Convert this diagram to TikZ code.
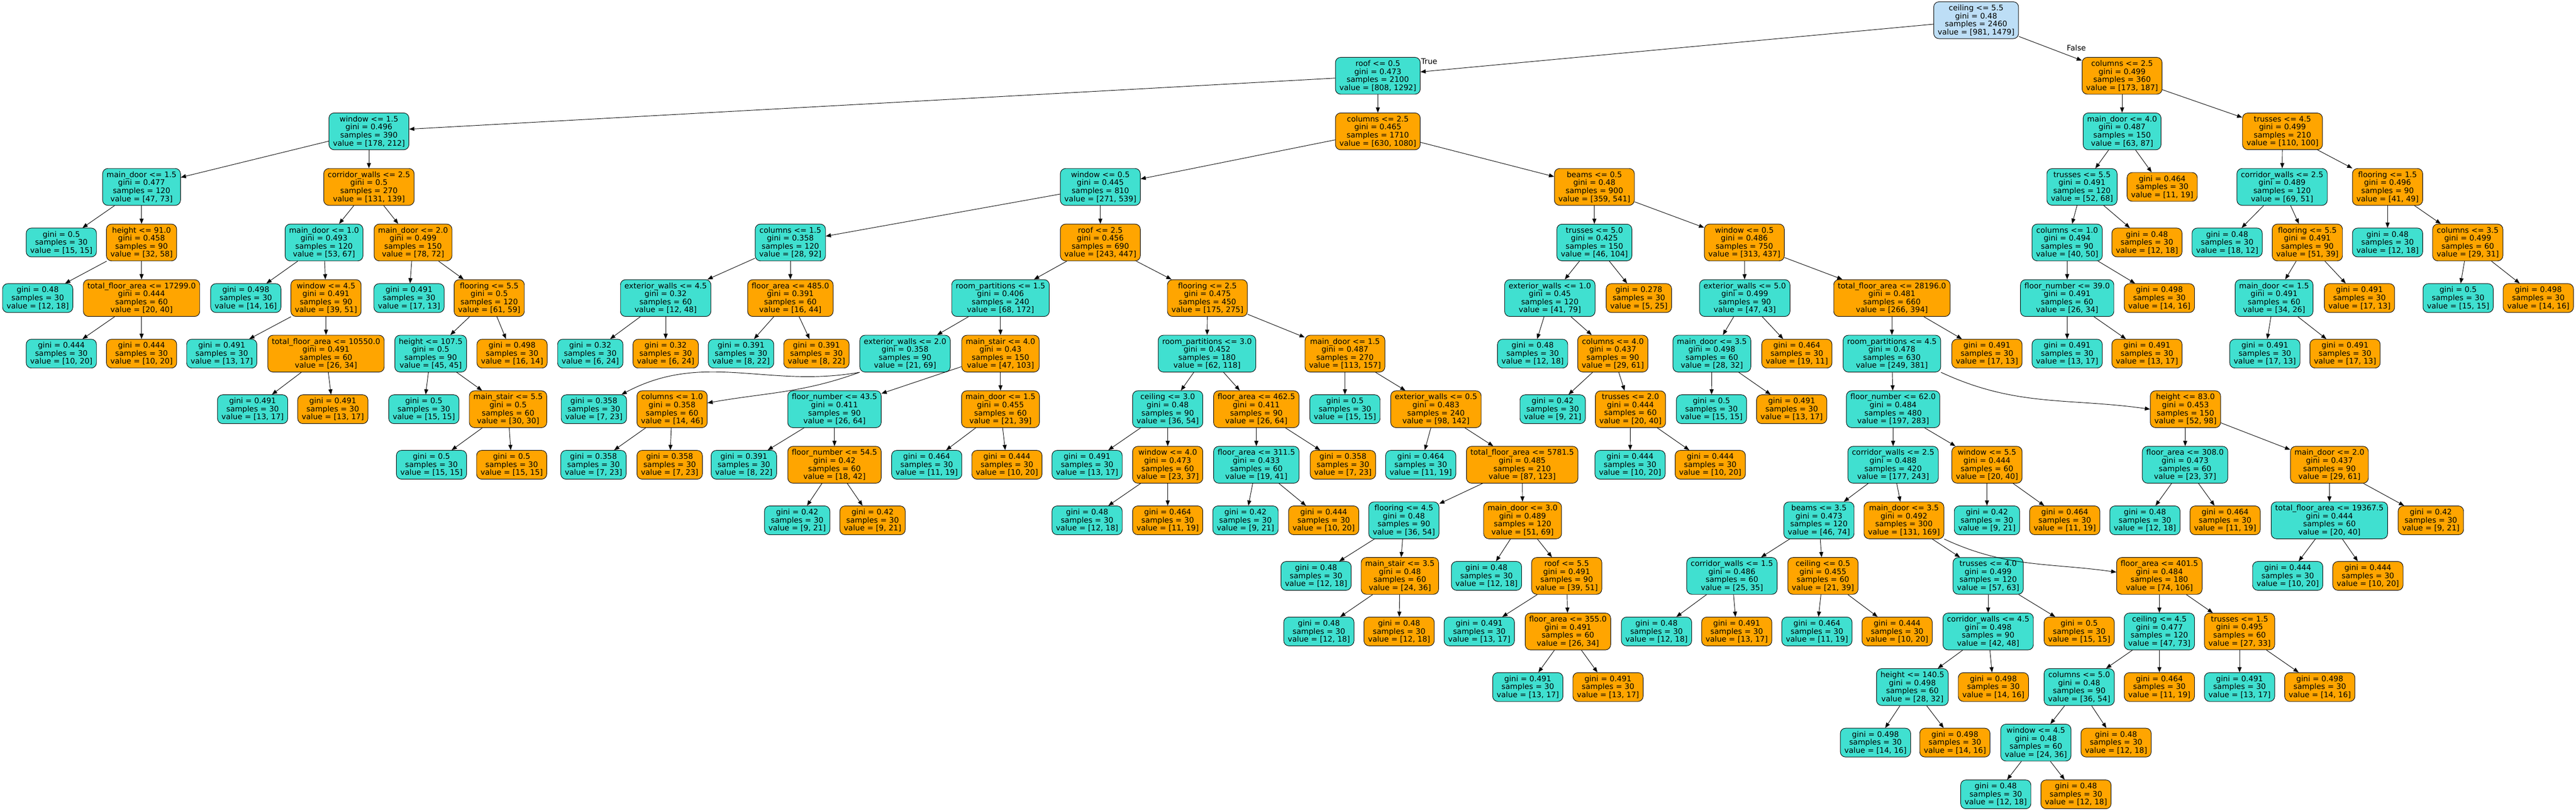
\documentclass[tikz,border=0pt]{standalone}
\usepackage{fontspec}
\setmainfont{DejaVu Sans}
\usetikzlibrary{arrows.meta}
\definecolor{tqfill}{HTML}{40E0D0}
\definecolor{ogfill}{HTML}{FFA500}
\definecolor{rtfill}{HTML}{BDDEF6}

\begin{document}
\begin{tikzpicture}[
			x=1pt, y=138.65pt,
			>={Triangle[length=13pt, width=10pt]},
			every node/.style={font=\fontsize{19pt}{20pt}\selectfont},
			box/.style={draw, line width=1.2pt, rounded corners=13pt, align=center, inner xsep=10pt, inner ysep=7.5pt},
			tq/.style={box, fill=tqfill},
			og/.style={box, fill=ogfill},
			rt/.style={box, fill=rtfill},
			lnk/.style={->, line width=1.2pt}
			]
			\useasboundingbox (0,0.364) rectangle (6424,-14.227);
			
			% level 0
			\node[rt] (d0a) at (4928,0) {ceiling <= 5.5\\gini = 0.48\\samples = 2460\\value = [981, 1479]};
			
			% level 1
			\node[tq] (d1a) at (3436,-1) {roof <= 0.5\\gini = 0.473\\samples = 2100\\value = [808, 1292]};
			\node[og] (d1b) at (5292,-1) {columns <= 2.5\\gini = 0.499\\samples = 360\\value = [173, 187]};
			\node[inner sep=0pt] (lblT) at (3564,-0.739) {True};
			\node[inner sep=0pt] (lblF) at (5178,-0.501) {False};
			
			% level 2
			\node[tq] (d2a) at (920,-2) {window <= 1.5\\gini = 0.496\\samples = 390\\value = [178, 212]};
			\node[og] (d2b) at (3436,-2) {columns <= 2.5\\gini = 0.465\\samples = 1710\\value = [630, 1080]};
			\node[tq] (d2c) at (5292,-2) {main\_door <= 4.0\\gini = 0.487\\samples = 150\\value = [63, 87]};
			\node[og] (d2d) at (5692,-2) {trusses <= 4.5\\gini = 0.499\\samples = 210\\value = [110, 100]};
			
			% level 3
			\node[tq] (d3a) at (353,-3) {main\_door <= 1.5\\gini = 0.477\\samples = 120\\value = [47, 73]};
			\node[og] (d3b) at (920,-3) {corridor\_walls <= 2.5\\gini = 0.5\\samples = 270\\value = [131, 139]};
			\node[tq] (d3c) at (2744,-3) {window <= 0.5\\gini = 0.445\\samples = 810\\value = [271, 539]};
			\node[og] (d3d) at (3976,-3) {beams <= 0.5\\gini = 0.48\\samples = 900\\value = [359, 541]};
			\node[tq] (d3e) at (5192,-3) {trusses <= 5.5\\gini = 0.491\\samples = 120\\value = [52, 68]};
			\node[og] (d3f) at (5392,-3) {gini = 0.464\\samples = 30\\value = [11, 19]};
			\node[tq] (d3g) at (5691,-3) {corridor\_walls <= 2.5\\gini = 0.489\\samples = 120\\value = [69, 51]};
			\node[og] (d3h) at (5954,-3) {flooring <= 1.5\\gini = 0.496\\samples = 90\\value = [41, 49]};
			
			% level 4
			\node[tq] (d4a) at (153,-4) {gini = 0.5\\samples = 30\\value = [15, 15]};
			\node[og] (d4b) at (353,-4) {height <= 91.0\\gini = 0.458\\samples = 90\\value = [32, 58]};
			\node[tq] (d4c) at (808,-4) {main\_door <= 1.0\\gini = 0.493\\samples = 120\\value = [53, 67]};
			\node[og] (d4d) at (1030,-4) {main\_door <= 2.0\\gini = 0.499\\samples = 150\\value = [78, 72]};
			\node[tq] (d4e) at (1971,-4) {columns <= 1.5\\gini = 0.358\\samples = 120\\value = [28, 92]};
			\node[og] (d4f) at (2744,-4) {roof <= 2.5\\gini = 0.456\\samples = 690\\value = [243, 447]};
			\node[tq] (d4g) at (3976,-4) {trusses <= 5.0\\gini = 0.425\\samples = 150\\value = [46, 104]};
			\node[og] (d4h) at (4350,-4) {window <= 0.5\\gini = 0.486\\samples = 750\\value = [313, 437]};
			\node[tq] (d4i) at (5155,-4) {columns <= 1.0\\gini = 0.494\\samples = 90\\value = [40, 50]};
			\node[og] (d4j) at (5354,-4) {gini = 0.48\\samples = 30\\value = [12, 18]};
			\node[tq] (d4k) at (5554,-4) {gini = 0.48\\samples = 30\\value = [18, 12]};
			\node[og] (d4l) at (5754,-4) {flooring <= 5.5\\gini = 0.491\\samples = 90\\value = [51, 39]};
			\node[tq] (d4m) at (5954,-4) {gini = 0.48\\samples = 30\\value = [12, 18]};
			\node[og] (d4n) at (6154,-4) {columns <= 3.5\\gini = 0.499\\samples = 60\\value = [29, 31]};
			
			% level 5
			\node[tq] (d5a) at (94,-5) {gini = 0.48\\samples = 30\\value = [12, 18]};
			\node[og] (d5b) at (353,-5) {total\_floor\_area <= 17299.0\\gini = 0.444\\samples = 60\\value = [20, 40]};
			\node[tq] (d5c) at (613,-5) {gini = 0.498\\samples = 30\\value = [14, 16]};
			\node[og] (d5d) at (813,-5) {window <= 4.5\\gini = 0.491\\samples = 90\\value = [39, 51]};
			\node[tq] (d5e) at (1020,-5) {gini = 0.491\\samples = 30\\value = [17, 13]};
			\node[og] (d5f) at (1220,-5) {flooring <= 5.5\\gini = 0.5\\samples = 120\\value = [61, 59]};
			\node[tq] (d5g) at (1660,-5) {exterior\_walls <= 4.5\\gini = 0.32\\samples = 60\\value = [12, 48]};
			\node[og] (d5h) at (1971,-5) {floor\_area <= 485.0\\gini = 0.391\\samples = 60\\value = [16, 44]};
			\node[tq] (d5i) at (2495,-5) {room\_partitions <= 1.5\\gini = 0.406\\samples = 240\\value = [68, 172]};
			\node[og] (d5j) at (3011,-5) {flooring <= 2.5\\gini = 0.475\\samples = 450\\value = [175, 275]};
			\node[tq] (d5k) at (3865,-5) {exterior\_walls <= 1.0\\gini = 0.45\\samples = 120\\value = [41, 79]};
			\node[og] (d5l) at (4087,-5) {gini = 0.278\\samples = 30\\value = [5, 25]};
			\node[tq] (d5m) at (4351,-5) {exterior\_walls <= 5.0\\gini = 0.499\\samples = 90\\value = [47, 43]};
			\node[og] (d5n) at (4718,-5) {total\_floor\_area <= 28196.0\\gini = 0.481\\samples = 660\\value = [266, 394]};
			\node[tq] (d5o) at (5155,-5) {floor\_number <= 39.0\\gini = 0.491\\samples = 60\\value = [26, 34]};
			\node[og] (d5p) at (5385,-5) {gini = 0.498\\samples = 30\\value = [14, 16]};
			\node[tq] (d5q) at (5671,-5) {main\_door <= 1.5\\gini = 0.491\\samples = 60\\value = [34, 26]};
			\node[og] (d5r) at (5884,-5) {gini = 0.491\\samples = 30\\value = [17, 13]};
			\node[tq] (d5s) at (6130,-5) {gini = 0.5\\samples = 30\\value = [15, 15]};
			\node[og] (d5t) at (6330,-5) {gini = 0.498\\samples = 30\\value = [14, 16]};
			
			% level 6
			\node[tq] (d6a) at (153,-6) {gini = 0.444\\samples = 30\\value = [10, 20]};
			\node[og] (d6b) at (353,-6) {gini = 0.444\\samples = 30\\value = [10, 20]};
			\node[tq] (d6c) at (553,-6) {gini = 0.491\\samples = 30\\value = [13, 17]};
			\node[og] (d6d) at (813,-6) {total\_floor\_area <= 10550.0\\gini = 0.491\\samples = 60\\value = [26, 34]};
			\node[tq] (d6e) at (1074,-6) {height <= 107.5\\gini = 0.5\\samples = 90\\value = [45, 45]};
			\node[og] (d6f) at (1277,-6) {gini = 0.498\\samples = 30\\value = [16, 14]};
			\node[tq] (d6g) at (1472,-6) {gini = 0.32\\samples = 30\\value = [6, 24]};
			\node[og] (d6h) at (1660,-6) {gini = 0.32\\samples = 30\\value = [6, 24]};
			\node[tq] (d6i) at (1848,-6) {gini = 0.391\\samples = 30\\value = [8, 22]};
			\node[og] (d6j) at (2036,-6) {gini = 0.391\\samples = 30\\value = [8, 22]};
			\node[tq] (d6k) at (2257,-6) {exterior\_walls <= 2.0\\gini = 0.358\\samples = 90\\value = [21, 69]};
			\node[og] (d6l) at (2495,-6) {main\_stair <= 4.0\\gini = 0.43\\samples = 150\\value = [47, 103]};
			\node[tq] (d6m) at (3010,-6) {room\_partitions <= 3.0\\gini = 0.452\\samples = 180\\value = [62, 118]};
			\node[og] (d6n) at (3354,-6) {main\_door <= 1.5\\gini = 0.487\\samples = 270\\value = [113, 157]};
			\node[tq] (d6o) at (3822,-6) {gini = 0.48\\samples = 30\\value = [12, 18]};
			\node[og] (d6p) at (4022,-6) {columns <= 4.0\\gini = 0.437\\samples = 90\\value = [29, 61]};
			\node[tq] (d6q) at (4269,-6) {main\_door <= 3.5\\gini = 0.498\\samples = 60\\value = [28, 32]};
			\node[og] (d6r) at (4481,-6) {gini = 0.464\\samples = 30\\value = [19, 11]};
			\node[tq] (d6s) at (4718,-6) {room\_partitions <= 4.5\\gini = 0.478\\samples = 630\\value = [249, 381]};
			\node[og] (d6t) at (4955,-6) {gini = 0.491\\samples = 30\\value = [17, 13]};
			\node[tq] (d6u) at (5155,-6) {gini = 0.491\\samples = 30\\value = [13, 17]};
			\node[og] (d6v) at (5354,-6) {gini = 0.491\\samples = 30\\value = [13, 17]};
			\node[tq] (d6w) at (5648,-6) {gini = 0.491\\samples = 30\\value = [17, 13]};
			\node[og] (d6x) at (5848,-6) {gini = 0.491\\samples = 30\\value = [17, 13]};
			
			% level 7
			\node[tq] (d7a) at (630,-7) {gini = 0.491\\samples = 30\\value = [13, 17]};
			\node[og] (d7b) at (830,-7) {gini = 0.491\\samples = 30\\value = [13, 17]};
			\node[tq] (d7c) at (1057,-7) {gini = 0.5\\samples = 30\\value = [15, 15]};
			\node[og] (d7d) at (1267,-7) {main\_stair <= 5.5\\gini = 0.5\\samples = 60\\value = [30, 30]};
			\node[tq] (d7e) at (1481,-7) {gini = 0.358\\samples = 30\\value = [7, 23]};
			\node[og] (d7f) at (1676,-7) {columns <= 1.0\\gini = 0.358\\samples = 60\\value = [14, 46]};
			\node[tq] (d7g) at (2081,-7) {floor\_number <= 43.5\\gini = 0.411\\samples = 90\\value = [26, 64]};
			\node[og] (d7h) at (2495,-7) {main\_door <= 1.5\\gini = 0.455\\samples = 60\\value = [21, 39]};
			\node[tq] (d7i) at (2912,-7) {ceiling <= 3.0\\gini = 0.48\\samples = 90\\value = [36, 54]};
			\node[og] (d7j) at (3133,-7) {floor\_area <= 462.5\\gini = 0.411\\samples = 90\\value = [26, 64]};
			\node[tq] (d7k) at (3354,-7) {gini = 0.5\\samples = 30\\value = [15, 15]};
			\node[og] (d7l) at (3581,-7) {exterior\_walls <= 0.5\\gini = 0.483\\samples = 240\\value = [98, 142]};
			\node[tq] (d7m) at (3872,-7) {gini = 0.42\\samples = 30\\value = [9, 21]};
			\node[og] (d7n) at (4066,-7) {trusses <= 2.0\\gini = 0.444\\samples = 60\\value = [20, 40]};
			\node[tq] (d7o) at (4268,-7) {gini = 0.5\\samples = 30\\value = [15, 15]};
			\node[og] (d7p) at (4468,-7) {gini = 0.491\\samples = 30\\value = [13, 17]};
			\node[tq] (d7q) at (4721,-7) {floor\_number <= 62.0\\gini = 0.484\\samples = 480\\value = [197, 283]};
			\node[og] (d7r) at (5450,-7) {height <= 83.0\\gini = 0.453\\samples = 150\\value = [52, 98]};
			
			% level 8
			\node[tq] (d8a) at (1076,-8) {gini = 0.5\\samples = 30\\value = [15, 15]};
			\node[og] (d8b) at (1276,-8) {gini = 0.5\\samples = 30\\value = [15, 15]};
			\node[tq] (d8c) at (1480,-8) {gini = 0.358\\samples = 30\\value = [7, 23]};
			\node[og] (d8d) at (1670,-8) {gini = 0.358\\samples = 30\\value = [7, 23]};
			\node[tq] (d8e) at (1855,-8) {gini = 0.391\\samples = 30\\value = [8, 22]};
			\node[og] (d8f) at (2081,-8) {floor\_number <= 54.5\\gini = 0.42\\samples = 60\\value = [18, 42]};
			\node[tq] (d8g) at (2311,-8) {gini = 0.464\\samples = 30\\value = [11, 19]};
			\node[og] (d8h) at (2511,-8) {gini = 0.444\\samples = 30\\value = [10, 20]};
			\node[tq] (d8i) at (2711,-8) {gini = 0.491\\samples = 30\\value = [13, 17]};
			\node[og] (d8j) at (2912,-8) {window <= 4.0\\gini = 0.473\\samples = 60\\value = [23, 37]};
			\node[tq] (d8k) at (3133,-8) {floor\_area <= 311.5\\gini = 0.433\\samples = 60\\value = [19, 41]};
			\node[og] (d8l) at (3349,-8) {gini = 0.358\\samples = 30\\value = [7, 23]};
			\node[tq] (d8m) at (3543,-8) {gini = 0.464\\samples = 30\\value = [11, 19]};
			\node[og] (d8n) at (3796,-8) {total\_floor\_area <= 5781.5\\gini = 0.485\\samples = 210\\value = [87, 123]};
			\node[tq] (d8o) at (4065,-8) {gini = 0.444\\samples = 30\\value = [10, 20]};
			\node[og] (d8p) at (4265,-8) {gini = 0.444\\samples = 30\\value = [10, 20]};
			\node[tq] (d8q) at (4721,-8) {corridor\_walls <= 2.5\\gini = 0.488\\samples = 420\\value = [177, 243]};
			\node[og] (d8r) at (4955,-8) {window <= 5.5\\gini = 0.444\\samples = 60\\value = [20, 40]};
			\node[tq] (d8s) at (5449,-8) {floor\_area <= 308.0\\gini = 0.473\\samples = 60\\value = [23, 37]};
			\node[og] (d8t) at (5809,-8) {main\_door <= 2.0\\gini = 0.437\\samples = 90\\value = [29, 61]};
			
			% level 9
			\node[tq] (d9a) at (1988,-9) {gini = 0.42\\samples = 30\\value = [9, 21]};
			\node[og] (d9b) at (2176,-9) {gini = 0.42\\samples = 30\\value = [9, 21]};
			\node[tq] (d9c) at (2711,-9) {gini = 0.48\\samples = 30\\value = [12, 18]};
			\node[og] (d9d) at (2912,-9) {gini = 0.464\\samples = 30\\value = [11, 19]};
			\node[tq] (d9e) at (3106,-9) {gini = 0.42\\samples = 30\\value = [9, 21]};
			\node[og] (d9f) at (3301,-9) {gini = 0.444\\samples = 30\\value = [10, 20]};
			\node[tq] (d9g) at (3501,-9) {flooring <= 4.5\\gini = 0.48\\samples = 90\\value = [36, 54]};
			\node[og] (d9h) at (3797,-9) {main\_door <= 3.0\\gini = 0.489\\samples = 120\\value = [51, 69]};
			\node[tq] (d9i) at (4536,-9) {beams <= 3.5\\gini = 0.473\\samples = 120\\value = [46, 74]};
			\node[og] (d9j) at (4748,-9) {main\_door <= 3.5\\gini = 0.492\\samples = 300\\value = [131, 169]};
			\node[tq] (d9k) at (4955,-9) {gini = 0.42\\samples = 30\\value = [9, 21]};
			\node[og] (d9l) at (5149,-9) {gini = 0.464\\samples = 30\\value = [11, 19]};
			\node[tq] (d9m) at (5349,-9) {gini = 0.48\\samples = 30\\value = [12, 18]};
			\node[og] (d9n) at (5549,-9) {gini = 0.464\\samples = 30\\value = [11, 19]};
			\node[tq] (d9o) at (5809,-9) {total\_floor\_area <= 19367.5\\gini = 0.444\\samples = 60\\value = [20, 40]};
			\node[og] (d9p) at (6062,-9) {gini = 0.42\\samples = 30\\value = [9, 21]};
			
			% level 10
			\node[tq] (d10a) at (3282,-10) {gini = 0.48\\samples = 30\\value = [12, 18]};
			\node[og] (d10b) at (3491,-10) {main\_stair <= 3.5\\gini = 0.48\\samples = 60\\value = [24, 36]};
			\node[tq] (d10c) at (3707,-10) {gini = 0.48\\samples = 30\\value = [12, 18]};
			\node[og] (d10d) at (3907,-10) {roof <= 5.5\\gini = 0.491\\samples = 90\\value = [39, 51]};
			\node[tq] (d10e) at (4319,-10) {corridor\_walls <= 1.5\\gini = 0.486\\samples = 60\\value = [25, 35]};
			\node[og] (d10f) at (4546,-10) {ceiling <= 0.5\\gini = 0.455\\samples = 60\\value = [21, 39]};
			\node[tq] (d10g) at (4958,-10) {trusses <= 4.0\\gini = 0.499\\samples = 120\\value = [57, 63]};
			\node[og] (d10h) at (5385,-10) {floor\_area <= 401.5\\gini = 0.484\\samples = 180\\value = [74, 106]};
			\node[tq] (d10i) at (5705,-10) {gini = 0.444\\samples = 30\\value = [10, 20]};
			\node[og] (d10j) at (5905,-10) {gini = 0.444\\samples = 30\\value = [10, 20]};
			
			% level 11
			\node[tq] (d11a) at (3289,-11) {gini = 0.48\\samples = 30\\value = [12, 18]};
			\node[og] (d11b) at (3489,-11) {gini = 0.48\\samples = 30\\value = [12, 18]};
			\node[tq] (d11c) at (3689,-11) {gini = 0.491\\samples = 30\\value = [13, 17]};
			\node[og] (d11d) at (3910,-11) {floor\_area <= 355.0\\gini = 0.491\\samples = 60\\value = [26, 34]};
			\node[tq] (d11e) at (4131,-11) {gini = 0.48\\samples = 30\\value = [12, 18]};
			\node[og] (d11f) at (4331,-11) {gini = 0.491\\samples = 30\\value = [13, 17]};
			\node[tq] (d11g) at (4531,-11) {gini = 0.464\\samples = 30\\value = [11, 19]};
			\node[og] (d11h) at (4731,-11) {gini = 0.444\\samples = 30\\value = [10, 20]};
			\node[tq] (d11i) at (4958,-11) {corridor\_walls <= 4.5\\gini = 0.498\\samples = 90\\value = [42, 48]};
			\node[og] (d11j) at (5185,-11) {gini = 0.5\\samples = 30\\value = [15, 15]};
			\node[tq] (d11k) at (5385,-11) {ceiling <= 4.5\\gini = 0.477\\samples = 120\\value = [47, 73]};
			\node[og] (d11l) at (5585,-11) {trusses <= 1.5\\gini = 0.495\\samples = 60\\value = [27, 33]};
			
			% level 12
			\node[tq] (d12a) at (3810,-12) {gini = 0.491\\samples = 30\\value = [13, 17]};
			\node[og] (d12b) at (4010,-12) {gini = 0.491\\samples = 30\\value = [13, 17]};
			\node[tq] (d12c) at (4769,-12) {height <= 140.5\\gini = 0.498\\samples = 60\\value = [28, 32]};
			\node[og] (d12d) at (4971,-12) {gini = 0.498\\samples = 30\\value = [14, 16]};
			\node[tq] (d12e) at (5185,-12) {columns <= 5.0\\gini = 0.48\\samples = 90\\value = [36, 54]};
			\node[og] (d12f) at (5385,-12) {gini = 0.464\\samples = 30\\value = [11, 19]};
			\node[tq] (d12g) at (5585,-12) {gini = 0.491\\samples = 30\\value = [13, 17]};
			\node[og] (d12h) at (5785,-12) {gini = 0.498\\samples = 30\\value = [14, 16]};
			
			% level 13
			\node[tq] (d13a) at (4677,-13) {gini = 0.498\\samples = 30\\value = [14, 16]};
			\node[og] (d13b) at (4875,-13) {gini = 0.498\\samples = 30\\value = [14, 16]};
			\node[tq] (d13c) at (5077,-13) {window <= 4.5\\gini = 0.48\\samples = 60\\value = [24, 36]};
			\node[og] (d13d) at (5277,-13) {gini = 0.48\\samples = 30\\value = [12, 18]};
			
			% level 14
			\node[tq] (d14a) at (4977,-13.931) {gini = 0.48\\samples = 30\\value = [12, 18]};
			\node[og] (d14b) at (5177,-13.931) {gini = 0.48\\samples = 30\\value = [12, 18]};
			
			% edges
			\draw[lnk] (d0a) -- (d1a); \draw[lnk] (d0a) -- (d1b);
			\draw[lnk] (d1a) -- (d2a); \draw[lnk] (d1a) -- (d2b);
			\draw[lnk] (d1b) -- (d2c); \draw[lnk] (d1b) -- (d2d);
			\draw[lnk] (d2a) -- (d3a); \draw[lnk] (d2a) -- (d3b);
			\draw[lnk] (d2b) -- (d3c); \draw[lnk] (d2b) -- (d3d);
			\draw[lnk] (d2c) -- (d3e); \draw[lnk] (d2c) -- (d3f);
			\draw[lnk] (d2d) -- (d3g); \draw[lnk] (d2d) -- (d3h);
			\draw[lnk] (d3a) -- (d4a); \draw[lnk] (d3a) -- (d4b);
			\draw[lnk] (d3b) -- (d4c); \draw[lnk] (d3b) -- (d4d);
			\draw[lnk] (d3c) -- (d4e); \draw[lnk] (d3c) -- (d4f);
			\draw[lnk] (d3d) -- (d4g); \draw[lnk] (d3d) -- (d4h);
			\draw[lnk] (d3e) -- (d4i); \draw[lnk] (d3e) -- (d4j);
			\draw[lnk] (d3g) -- (d4k); \draw[lnk] (d3g) -- (d4l);
			\draw[lnk] (d3h) -- (d4m); \draw[lnk] (d3h) -- (d4n);
			\draw[lnk] (d4b) -- (d5a); \draw[lnk] (d4b) -- (d5b);
			\draw[lnk] (d4c) -- (d5c); \draw[lnk] (d4c) -- (d5d);
			\draw[lnk] (d4d) -- (d5e); \draw[lnk] (d4d) -- (d5f);
			\draw[lnk] (d4e) -- (d5g); \draw[lnk] (d4e) -- (d5h);
			\draw[lnk] (d4f) -- (d5i); \draw[lnk] (d4f) -- (d5j);
			\draw[lnk] (d4g) -- (d5k); \draw[lnk] (d4g) -- (d5l);
			\draw[lnk] (d4h) -- (d5m); \draw[lnk] (d4h) -- (d5n);
			\draw[lnk] (d4i) -- (d5o); \draw[lnk] (d4i) -- (d5p);
			\draw[lnk] (d4l) -- (d5q); \draw[lnk] (d4l) -- (d5r);
			\draw[lnk] (d4n) -- (d5s); \draw[lnk] (d4n) -- (d5t);
			\draw[lnk] (d5b) -- (d6a); \draw[lnk] (d5b) -- (d6b);
			\draw[lnk] (d5d) -- (d6c); \draw[lnk] (d5d) -- (d6d);
			\draw[lnk] (d5f) -- (d6e); \draw[lnk] (d5f) -- (d6f);
			\draw[lnk] (d5g) -- (d6g); \draw[lnk] (d5g) -- (d6h);
			\draw[lnk] (d5h) -- (d6i); \draw[lnk] (d5h) -- (d6j);
			\draw[lnk] (d5i) -- (d6k); \draw[lnk] (d5i) -- (d6l);
			\draw[lnk] (d5j) -- (d6m); \draw[lnk] (d5j) -- (d6n);
			\draw[lnk] (d5k) -- (d6o); \draw[lnk] (d5k) -- (d6p);
			\draw[lnk] (d5m) -- (d6q); \draw[lnk] (d5m) -- (d6r);
			\draw[lnk] (d5n) -- (d6s); \draw[lnk] (d5n) -- (d6t);
			\draw[lnk] (d5o) -- (d6u); \draw[lnk] (d5o) -- (d6v);
			\draw[lnk] (d5q) -- (d6w); \draw[lnk] (d5q) -- (d6x);
			\draw[lnk] (d6d) -- (d7a); \draw[lnk] (d6d) -- (d7b);
			\draw[lnk] (d6e) -- (d7c); \draw[lnk] (d6e) -- (d7d);
			\draw[lnk] (d6k.south west) to[out=190, in=28] (d7e.28);
			\draw[lnk] (d6k.south west) to[out=200, in=10] (d7f.10);
			\draw[lnk] (d6l) -- (d7g); \draw[lnk] (d6l) -- (d7h);
			\draw[lnk] (d6m) -- (d7i); \draw[lnk] (d6m) -- (d7j);
			\draw[lnk] (d6n) -- (d7k); \draw[lnk] (d6n) -- (d7l);
			\draw[lnk] (d6p) -- (d7m); \draw[lnk] (d6p) -- (d7n);
			\draw[lnk] (d6q) -- (d7o); \draw[lnk] (d6q) -- (d7p);
			\draw[lnk] (d6s) -- (d7q);
			\draw[lnk] (d6s.south east) to[out=-25, in=172] (d7r.west);
			\draw[lnk] (d7d) -- (d8a); \draw[lnk] (d7d) -- (d8b);
			\draw[lnk] (d7f) -- (d8c); \draw[lnk] (d7f) -- (d8d);
			\draw[lnk] (d7g) -- (d8e); \draw[lnk] (d7g) -- (d8f);
			\draw[lnk] (d7h) -- (d8g); \draw[lnk] (d7h) -- (d8h);
			\draw[lnk] (d7i) -- (d8i); \draw[lnk] (d7i) -- (d8j);
			\draw[lnk] (d7j) -- (d8k); \draw[lnk] (d7j) -- (d8l);
			\draw[lnk] (d7l) -- (d8m); \draw[lnk] (d7l) -- (d8n);
			\draw[lnk] (d7n) -- (d8o); \draw[lnk] (d7n) -- (d8p);
			\draw[lnk] (d7q) -- (d8q); \draw[lnk] (d7q) -- (d8r);
			\draw[lnk] (d7r) -- (d8s); \draw[lnk] (d7r) -- (d8t);
			\draw[lnk] (d8f) -- (d9a); \draw[lnk] (d8f) -- (d9b);
			\draw[lnk] (d8j) -- (d9c); \draw[lnk] (d8j) -- (d9d);
			\draw[lnk] (d8k) -- (d9e); \draw[lnk] (d8k) -- (d9f);
			\draw[lnk] (d8n) -- (d9g); \draw[lnk] (d8n) -- (d9h);
			\draw[lnk] (d8q) -- (d9i); \draw[lnk] (d8q) -- (d9j);
			\draw[lnk] (d8r) -- (d9k); \draw[lnk] (d8r) -- (d9l);
			\draw[lnk] (d8s) -- (d9m); \draw[lnk] (d8s) -- (d9n);
			\draw[lnk] (d8t) -- (d9o); \draw[lnk] (d8t) -- (d9p);
			\draw[lnk] (d9g) -- (d10a); \draw[lnk] (d9g) -- (d10b);
			\draw[lnk] (d9h) -- (d10c); \draw[lnk] (d9h) -- (d10d);
			\draw[lnk] (d9i) -- (d10e); \draw[lnk] (d9i) -- (d10f);
			\draw[lnk] (d9j) -- (d10g);
			\draw[lnk] (d9j.south east) to[out=-25, in=172] (d10h.175);
			\draw[lnk] (d9o) -- (d10i); \draw[lnk] (d9o) -- (d10j);
			\draw[lnk] (d10b) -- (d11a); \draw[lnk] (d10b) -- (d11b);
			\draw[lnk] (d10d) -- (d11c); \draw[lnk] (d10d) -- (d11d);
			\draw[lnk] (d10e) -- (d11e); \draw[lnk] (d10e) -- (d11f);
			\draw[lnk] (d10f) -- (d11g); \draw[lnk] (d10f) -- (d11h);
			\draw[lnk] (d10g) -- (d11i); \draw[lnk] (d10g) -- (d11j);
			\draw[lnk] (d10h) -- (d11k); \draw[lnk] (d10h) -- (d11l);
			\draw[lnk] (d11d) -- (d12a); \draw[lnk] (d11d) -- (d12b);
			\draw[lnk] (d11i) -- (d12c); \draw[lnk] (d11i) -- (d12d);
			\draw[lnk] (d11k) -- (d12e); \draw[lnk] (d11k) -- (d12f);
			\draw[lnk] (d11l) -- (d12g); \draw[lnk] (d11l) -- (d12h);
			\draw[lnk] (d12c) -- (d13a); \draw[lnk] (d12c) -- (d13b);
			\draw[lnk] (d12e) -- (d13c); \draw[lnk] (d12e) -- (d13d);
			\draw[lnk] (d13c) -- (d14a); \draw[lnk] (d13c) -- (d14b);
		\end{tikzpicture}
\end{document}
